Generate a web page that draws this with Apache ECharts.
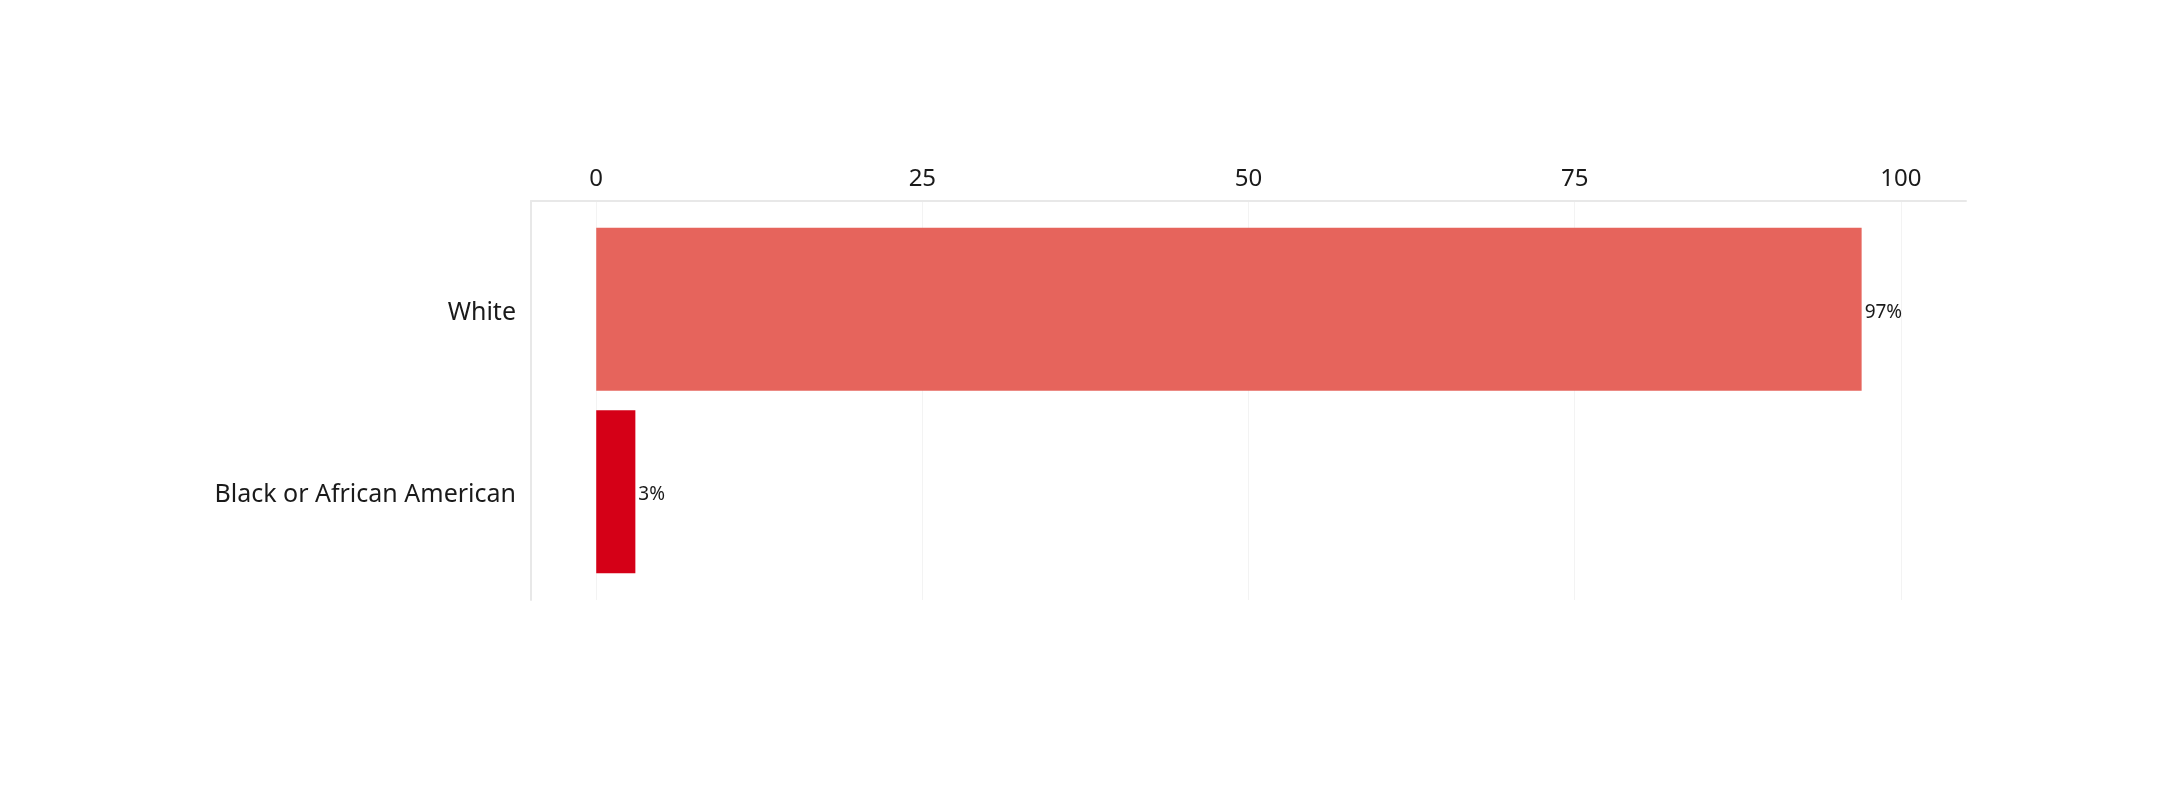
<!DOCTYPE html>
<html>
<head>
<meta charset="utf-8">
<script src="https://cdn.jsdelivr.net/npm/echarts@6/dist/echarts.min.js"></script>
<style>
html,body{margin:0;padding:0;background:#fff;}
#chart{width:2165px;height:800px;}
</style>
</head>
<body>
<div id="chart"></div>
<script>
const categories = ['White', 'Black or African American'];
const values = [97, 3];
const tickValues = [0, 25, 50, 75, 100];

const palette = ['#e6645c', '#d50017'];
const FONT = 'Noto Sans, sans-serif';

const chart = echarts.init(document.getElementById('chart'));
chart.setOption({
  backgroundColor: '#ffffff',
  animation: false,
  grid: [
    { left: 531, right: 199, top: 201, height: 399 },
    { left: 531, right: 199, top: 218, height: 365 }
  ],
  xAxis: [
    {
      gridIndex: 0, type: 'value', position: 'top', min: -5, max: 105,
      axisLine: { show: true, onZero: false, lineStyle: { color: '#e8e8e8', width: 2 } },
      axisTick: { show: false, customValues: tickValues },
      axisLabel: { customValues: tickValues, color: '#1a1a1a', fontSize: 24, fontFamily: FONT, margin: 10 },
      splitLine: { show: true, lineStyle: { color: '#f3f3f3', width: 1 } }
    },
    {
      gridIndex: 1, type: 'value', min: -5, max: 105, show: false
    }
  ],
  yAxis: [
    {
      gridIndex: 0, type: 'value', min: 0, max: 1, position: 'left',
      axisLine: { show: true, onZero: false, lineStyle: { color: '#e8e8e8', width: 2 } },
      axisTick: { show: false }, axisLabel: { show: false }, splitLine: { show: false }
    },
    {
      gridIndex: 1, type: 'category', inverse: true, data: categories,
      axisLine: { show: false }, axisTick: { show: false }, splitLine: { show: false },
      axisLabel: {
        margin: 15,
        formatter: v => '{c|' + v + '}',
        rich: { c: { color: '#1a1a1a', fontSize: 25, fontFamily: FONT, padding: [7, 0, 0, 0] } }
      }
    }
  ],
  series: [
    {
      type: 'bar', xAxisIndex: 1, yAxisIndex: 1,
      data: values,
      barCategoryGap: '10.7%',
      itemStyle: { color: p => palette[p.dataIndex] },
      label: {
        show: true, position: 'right', distance: 3, offset: [0, 3],
        formatter: p => p.value + '%',
        color: '#1a1a1a', fontSize: 19, fontFamily: FONT
      }
    }
  ]
});
</script>
</body>
</html>
